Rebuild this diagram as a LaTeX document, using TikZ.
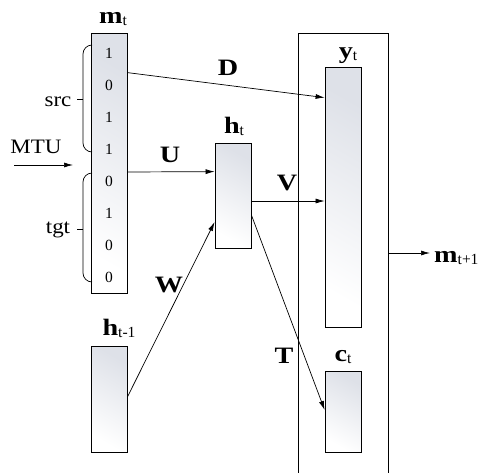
\documentclass[tikz,border=0pt]{standalone}
\usepackage{fontspec}
\setmainfont{Liberation Serif}
\usetikzlibrary{arrows.meta}
\definecolor{boxgray}{RGB}{222,225,232}
\newcommand{\bw}[1]{\scalebox{1.2}[1]{\textbf{#1}}}
\newcommand{\lab}[2]{\fontsize{23.5}{25}\selectfont\bw{#1}\raisebox{-2.5pt}{\fontsize{15.5}{16}\selectfont #2}}
\newcommand{\sw}[1]{\scalebox{1.12}[1]{#1}}
\begin{document}
\begin{tikzpicture}[x=1pt,y=-1pt,
  box/.style={draw, line width=0.8pt, rectangle, inner sep=0pt, top color=boxgray, bottom color=white, shading angle=-30},
  plain/.style={draw, line width=0.8pt, rectangle, inner sep=0pt},
  conn/.style={line width=0.7pt, -{Latex[length=9pt,width=5pt]}},
  big/.style={font=\fontsize{23.5}{25}\selectfont, anchor=base, inner sep=0pt},
  lbl/.style={anchor=base, inner sep=0pt},
  dig/.style={font=\fontsize{15.5}{16}\selectfont, inner sep=0pt},
  side/.style={font=\fontsize{20.5}{22}\selectfont, anchor=base, inner sep=0pt},
  brc/.style={line width=0.7pt}]
\clip (0,0) rectangle (484,472);
% boxes
\node[plain, minimum width=90pt, minimum height=447pt] (outer) at (343,256.5) {};
\node[box, minimum width=36pt, minimum height=260pt] (mt) at (109,163) {};
\node[box, minimum width=36pt, minimum height=105pt] (ht) at (233,195.5) {};
\node[box, minimum width=36pt, minimum height=260pt] (yt) at (343,197) {};
\node[box, minimum width=36pt, minimum height=81pt] (ct) at (343,411.5) {};
\node[box, minimum width=36pt, minimum height=106pt] (hm) at (109,399) {};
% digits
\node[dig] (d1) at (109,53) {1};
\node[dig] (d2) at (109,85) {0};
\node[dig] (d3) at (109,117) {1};
\node[dig] (d4) at (109,149) {1};
\node[dig] (d5) at (109,181) {0};
\node[dig] (d6) at (109,213) {1};
\node[dig] (d7) at (109,245) {0};
\node[dig] (d8) at (109,277) {0};
% node labels
\node[lbl] (lmt) at (113,23) {\lab{m}{t}};
\node[lbl] (lht) at (234,133) {\lab{h}{t}};
\node[lbl] (lyt) at (348,58) {\lab{y}{t}};
\node[lbl] (lct) at (343,361) {\lab{c}{t}};
\node[lbl] (lhm) at (119,335) {\lab{h}{t-1}};
\node[lbl, anchor=base west] (lmn) at (434,262) {\lab{m}{t+1}};
% braces
\draw[brc] (92,45) to[out=180,in=90] (83,54) -- (83,143) to[out=-90,in=180] (92,152);
\draw[brc] (83,99) -- (77,99);
\draw[brc] (92,173) to[out=180,in=90] (83,182) -- (83,273) to[out=-90,in=180] (92,282);
\draw[brc] (83,229) -- (77,229);
\node[side] (src) at (58,106) {\sw{src}};
\node[side] (tgt) at (58,233) {\sw{tgt}};
\node[side] (mtu) at (36,153) {\sw{MTU}};
% connectors
\coordinate (mtuA) at (14,165);
\coordinate (mtuB) at (73,165);
\draw[conn] (mtuA) -- (mtuB);
\draw[conn] ([yshift=-40pt]mt.north east) -- ([yshift=-31pt]yt.north west);
\draw[conn] ([yshift=-9pt]mt.east) -- ([yshift=-29pt]ht.north west);
\draw[conn] ([yshift=-5.5pt]ht.east) -- ([yshift=-4pt]yt.west);
\draw[conn] ([yshift=2pt]hm.east) -- ([yshift=-26.5pt]ht.west);
\draw[conn] ([yshift=-19.5pt]ht.east) -- ([yshift=1.5pt]ct.west);
\coordinate (mnext) at (430,253);
\draw[conn] (outer.east |- mnext) -- (mnext);
% edge labels
\node[big] (D) at (228,75) {\bw{D}};
\node[big] (U) at (170,162) {\bw{U}};
\node[big] (V) at (287,190) {\bw{V}};
\node[big] (W) at (169,292) {\bw{W}};
\node[big] (T) at (284,363) {\bw{T}};
\end{tikzpicture}
\end{document}
